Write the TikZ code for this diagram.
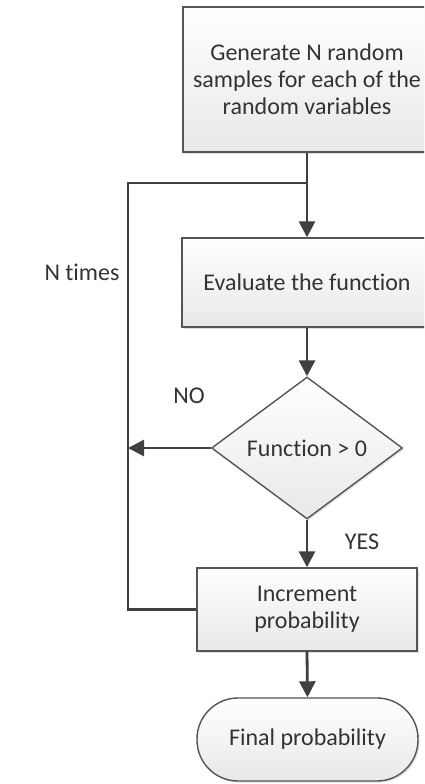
\documentclass[tikz,border=0pt]{standalone}
\usepackage{fontspec}
\setmainfont{Carlito}[Ligatures={NoCommon}]
\usetikzlibrary{shapes.geometric,arrows.meta,shadows}
\definecolor{linec}{HTML}{404040}
\definecolor{borderc}{HTML}{555555}
\definecolor{textc}{HTML}{333333}
\begin{document}
\begin{tikzpicture}[x=1pt,y=-1pt,
  every node/.style={font=\fontsize{24}{27}\selectfont, text=textc},
  boxstyle/.style={draw=borderc, line width=1.4pt, top color=white, bottom color=gray!18,
     drop shadow={shadow xshift=1.5pt, shadow yshift=-1.5pt, opacity=0.25, fill=gray},
     inner sep=0pt, align=center},
  conn/.style={draw=linec, line width=2.8pt},
  arr/.style={conn, -{Triangle[length=16pt,width=16pt]}},
  lbl/.style={inner sep=0pt}
]
\clip (0,0) rectangle (424,784);
\fill[white] (0,0) rectangle (424,784);

\node[boxstyle, minimum width=248pt, minimum height=145pt] (gen) at (307,79.5)
  {Generate N random\\samples for each of the\\random variables};
\node[boxstyle, minimum width=250pt, minimum height=89pt] (ev) at (307,282.5)
  {Evaluate the function};
\node[boxstyle, diamond, minimum width=191pt, minimum height=142pt] (dec) at (307,448)
  {Function > 0};
\node[boxstyle, minimum width=220pt, minimum height=83pt] (inc) at (307,609.5)
  {Increment\\probability};
\node[boxstyle, rounded corners=41pt, minimum width=221pt, minimum height=83pt] (fin) at (307.5,739.5)
  {Final probability};

\coordinate (j) at (307,183);
\coordinate (lt) at (128,183);
\coordinate (lb) at (128,609.5);

\draw[arr] (gen.south) -- (ev.north);
\draw[arr] (ev.south) -- (dec.north);
\draw[arr] (dec.south) -- (inc.north);
\draw[arr] (inc.south) -- (fin.north);
\draw[conn] (inc.west) -- (lb) -- (lt) -- (j);
\draw[arr] (dec.west) -- (dec.west -| lt);

\node[lbl] (nt) at (82,272) {N times};
\node[lbl] (no) at (189,396) {NO};
\node[lbl] (yes) at (362,542) {YES};
\end{tikzpicture}
\end{document}
